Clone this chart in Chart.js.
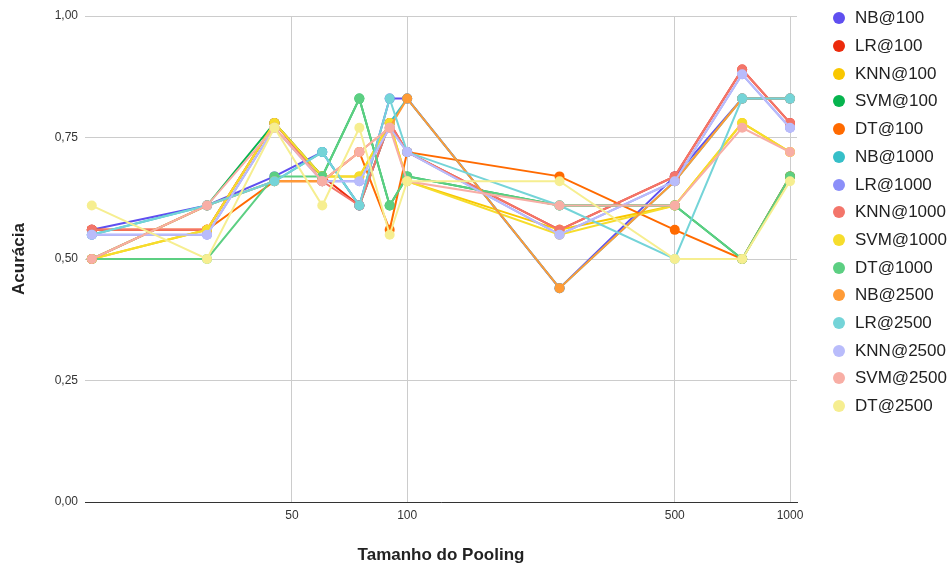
<!DOCTYPE html>
<html>
<head>
<meta charset="utf-8">
<script src="https://cdn.jsdelivr.net/npm/chart.js@4.4.1/dist/chart.umd.min.js"></script>
<style>
  body { margin: 0; background: #fff; }
  #wrap { position: relative; width: 949px; height: 567px; }
  #legenda { font: 17px 'Liberation Sans', Arial, sans-serif; color: #222; }
  .item { position: absolute; left: 833px; height: 20px; line-height: 20px; white-space: nowrap; }
  .dot { position: absolute; left: 0; top: 4px; width: 12px; height: 12px; border-radius: 50%; }
  .txt { position: absolute; left: 22px; top: 0; }
</style>
</head>
<body>
<div id="wrap">
  <canvas id="grafico" width="949" height="567"></canvas>
  <div id="legenda"></div>
</div>
<script>
// tamanho do pooling (eixo x, log)
const tamanhos = [15, 30, 45, 60, 75, 90, 100, 250, 500, 750, 1000];
const ticksX = [50, 100, 500, 1000];

const nomes = ['NB@100', 'LR@100', 'KNN@100', 'SVM@100', 'DT@100',
  'NB@1000', 'LR@1000', 'KNN@1000', 'SVM@1000', 'DT@1000',
  'NB@2500', 'LR@2500', 'KNN@2500', 'SVM@2500', 'DT@2500'];

const cores = ['#5f4ff0', '#ec2b0c', '#f9c700', '#06b44e', '#ff6a00',
  '#36bfc8', '#8b8ff9', '#f3756a', '#f6dd2c', '#5ccf82',
  '#ff9b36', '#74d4d8', '#b9bcfb', '#f8aea5', '#f6ee90'];

// acuracias
const nb100   = [0.56, 0.61, 0.67, 0.72, 0.61, 0.83, 0.83, 0.44, 0.67, 0.83, 0.83];
const lr100   = [0.56, 0.56, 0.78, 0.67, 0.61, 0.78, 0.72, 0.56, 0.67, 0.89, 0.78];
const knn100  = [0.50, 0.56, 0.78, 0.67, 0.67, 0.78, 0.66, 0.56, 0.61, 0.78, 0.72];
const svm100  = [0.50, 0.61, 0.78, 0.67, 0.83, 0.61, 0.67, 0.61, 0.61, 0.50, 0.67];
const dt100   = [0.56, 0.56, 0.66, 0.66, 0.72, 0.56, 0.72, 0.67, 0.56, 0.50, 0.67];
const nb1000  = [0.55, 0.61, 0.66, 0.72, 0.61, 0.78, 0.83, 0.44, 0.66, 0.83, 0.83];
const lr1000  = [0.55, 0.55, 0.77, 0.66, 0.66, 0.77, 0.72, 0.55, 0.66, 0.88, 0.77];
const knn1000 = [0.56, 0.56, 0.78, 0.66, 0.61, 0.78, 0.72, 0.56, 0.67, 0.89, 0.78];
const svm1000 = [0.50, 0.56, 0.78, 0.67, 0.67, 0.78, 0.66, 0.55, 0.61, 0.78, 0.72];
const dt1000  = [0.50, 0.50, 0.67, 0.67, 0.83, 0.61, 0.67, 0.61, 0.61, 0.50, 0.67];
const nb2500  = [0.50, 0.61, 0.66, 0.66, 0.72, 0.77, 0.83, 0.44, 0.66, 0.83, 0.83];
const lr2500  = [0.55, 0.61, 0.66, 0.72, 0.61, 0.83, 0.72, 0.61, 0.50, 0.83, 0.83];
const knn2500 = [0.55, 0.55, 0.77, 0.66, 0.66, 0.77, 0.72, 0.55, 0.66, 0.88, 0.77];
const svm2500 = [0.50, 0.61, 0.77, 0.66, 0.72, 0.77, 0.66, 0.61, 0.61, 0.77, 0.72];
const dt2500  = [0.61, 0.50, 0.77, 0.61, 0.77, 0.55, 0.66, 0.66, 0.50, 0.50, 0.66];

const series = [nb100, lr100, knn100, svm100, dt100,
  nb1000, lr1000, knn1000, svm1000, dt1000,
  nb2500, lr2500, knn2500, svm2500, dt2500];

Chart.defaults.font.family = "'Liberation Sans', Arial, sans-serif";

new Chart(document.getElementById('grafico'), {
  type: 'line',
  data: {
    datasets: series.map((valores, i) => ({
      label: nomes[i],
      data: valores.map((v, j) => ({ x: tamanhos[j], y: v })),
      borderColor: cores[i],
      backgroundColor: cores[i],
      borderWidth: 2,
      pointRadius: 5,
      pointBorderWidth: 0,
      order: series.length - i  // ultima serie por cima
    }))
  },
  options: {
    responsive: false,
    animation: false,
    layout: { padding: { top: 16, right: 152, left: 0, bottom: 0 } },
    plugins: {
      legend: { display: false },
      tooltip: { enabled: false }
    },
    scales: {
      x: {
        type: 'logarithmic',
        min: 14.4,
        max: 1043,
        afterBuildTicks: axis => { axis.ticks = ticksX.map(v => ({ value: v })); },
        afterFit: axis => { axis.height = 65; },
        ticks: {
          padding: 6,
          color: '#333',
          font: { size: 12 },
          autoSkip: false,
          maxRotation: 0,
          callback: v => String(v)
        },
        grid: { color: '#cccccc', drawTicks: false },
        border: { color: '#333333', width: 1 },
        title: {
          display: true,
          text: 'Tamanho do Pooling',
          color: '#222',
          font: { size: 17, weight: 'bold' },
          padding: 1
        }
      },
      y: {
        min: 0,
        max: 1,
        afterFit: axis => { axis.width = 85; },
        ticks: {
          stepSize: 0.25,
          padding: 7,
          color: '#333',
          font: { size: 12 },
          callback: v => v.toFixed(2).replace('.', ',')
        },
        grid: { color: '#cccccc', drawTicks: false },
        border: { display: false },
        title: {
          display: true,
          text: 'Acurácia',
          color: '#222',
          font: { size: 17, weight: 'bold' },
          padding: 8.8
        }
      }
    }
  }
});

// legenda em html
const legenda = document.getElementById('legenda');
nomes.forEach((nome, i) => {
  const item = document.createElement('div');
  item.className = 'item';
  item.style.top = (18.3 + 27.7 * i - 10) + 'px';
  item.innerHTML = '<span class="dot" style="background:' + cores[i] + '"></span><span class="txt">' + nome + '</span>';
  legenda.appendChild(item);
});
</script>
</body>
</html>
